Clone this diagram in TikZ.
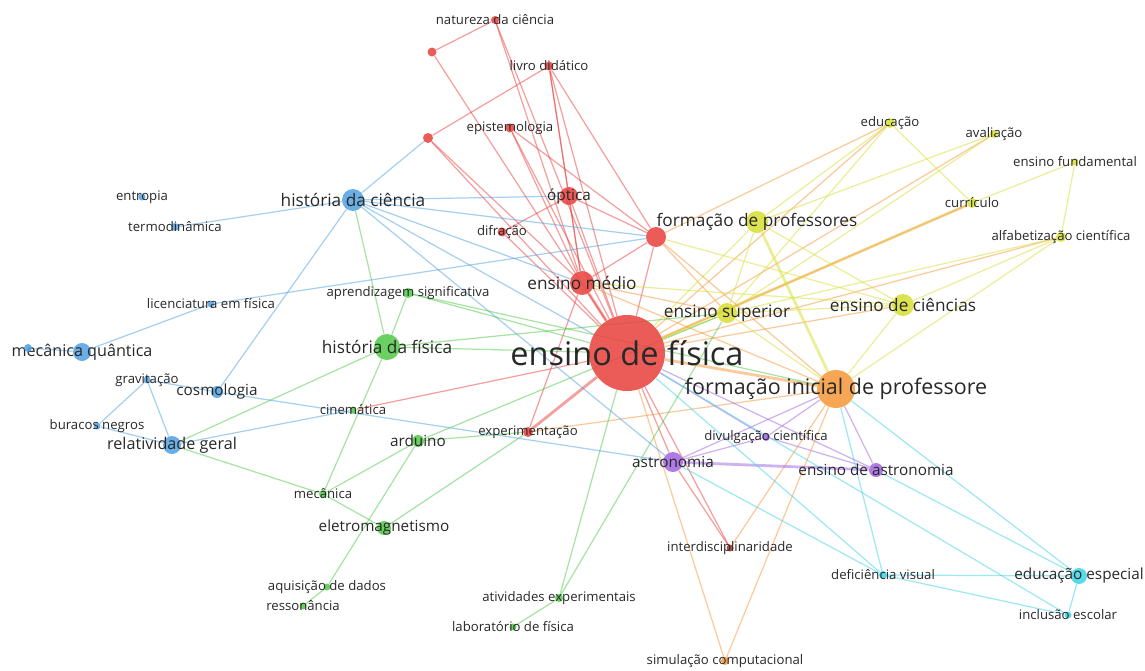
\documentclass[tikz,border=0pt]{standalone}
\usepackage{fontspec}
\setmainfont{Open Sans}
\usetikzlibrary{backgrounds}
\definecolor{cred}{RGB}{232,64,60}
\definecolor{cyel}{RGB}{214,222,50}
\definecolor{corg}{RGB}{245,150,55}
\definecolor{cgrn}{RGB}{80,200,70}
\definecolor{cblu}{RGB}{80,160,225}
\definecolor{cpur}{RGB}{160,100,225}
\definecolor{ccya}{RGB}{60,210,230}
\definecolor{ctxt}{RGB}{40,40,40}
\tikzset{
  kw/.style args={#1/#2}{circle, fill=#1, fill opacity=0.85, inner sep=0pt, minimum size=#2*0.02cm},
  ln/.style={draw=#1, line width=0.7pt, draw opacity=0.5},
  lnb/.style={draw=#1, line width=1.6pt, draw opacity=0.5},
  t1/.style={text=ctxt, font=\fontsize{18.5}{20}\selectfont},
  t2/.style={text=ctxt, font=\fontsize{12.2}{14}\selectfont},
  t3/.style={text=ctxt, font=\fontsize{9.8}{11}\selectfont},
  t3s/.style={text=ctxt, font=\fontsize{9.2}{11}\selectfont},
  t4/.style={text=ctxt, font=\fontsize{8.7}{10}\selectfont},
  t5/.style={text=ctxt, font=\fontsize{7.5}{9}\selectfont},
}
\begin{document}
\begin{tikzpicture}[x=0.02cm, y=-0.02cm]
\useasboundingbox (0,0) rectangle (1145,670);

\node[kw=cred/76, label={[t1]center:ensino de física}] (efis) at (627,353) {};
\node[kw=cred/24, label={[t3]center:ensino médio}] (emed) at (582,283) {};
\node[kw=cred/20] (fpr) at (656,237) {};
\node[kw=cred/18, label={[t4]center:óptica}] (opt) at (569,196) {};
\node[kw=cred/9, label={[t5]center:difração}] (difr) at (502,232) {};
\node[kw=cred/9, label={[t5]center:epistemologia}] (epis) at (510,128) {};
\node[kw=cred/9, label={[t5]center:livro didático}] (livro) at (549,66) {};
\node[kw=cred/8, label={[t5]center:natureza da ciência}] (natur) at (495,20) {};
\node[kw=cred/9] (u1) at (432,52) {};
\node[kw=cred/10] (u2) at (428,138) {};
\node[kw=cred/10, label={[t5]center:experimentação}] (expe) at (528,432) {};
\node[kw=cred!70!black/7, label={[t5]center:interdisciplinaridade}] (inter) at (730,548) {};

\node[kw=cyel/22, label={[t3]center:formação de professores}] (fprof) at (757,222) {};
\node[kw=cyel/20, label={[t3]center:ensino superior}] (esup) at (727,313) {};
\node[kw=cyel/22, label={[t3]center:ensino de ciências}] (eciu) at (903,305) {};
\node[kw=cyel/10, label={[t5]center:educação}] (educ) at (890,123) {};
\node[kw=cyel/8, label={[t5]center:avaliação}] (aval) at (994,134) {};
\node[kw=cyel/7, label={[t5]center:ensino fundamental}] (efund) at (1075,162) {};
\node[kw=cyel/10, label={[t5]center:currículo}] (curr) at (972,203) {};
\node[kw=cyel/10, label={[t5]center:alfabetização científica}] (alfa) at (1061,237) {};

\node[kw=corg/38, label={[t2]center:formação inicial de professore}] (finic) at (836,389) {};
\node[kw=corg/8, label={[t5]center:simulação computacional}] (simul) at (725,661) {};

\node[kw=cpur/20, label={[t4]center:astronomia}] (astro) at (673,462) {};
\node[kw=cpur/14, label={[t4]center:ensino de astronomia}] (enast) at (876,470) {};
\node[kw=cpur/8, label={[t5]center:divulgação científica}] (divul) at (766,437) {};

\node[kw=ccya/16, label={[t4]center:educação especial}] (eesp) at (1079,576) {};
\node[kw=ccya/7, label={[t5]center:inclusão escolar}] (incl) at (1068,615) {};
\node[kw=ccya/8, label={[t5]center:deficiência visual}] (defv) at (883,575) {};

\node[kw=cgrn/26, label={[t3]center:história da física}] (hfis) at (387,347) {};
\node[kw=cgrn/10, label={[t5]center:aprendizagem significativa}] (apsig) at (408,293) {};
\node[kw=cgrn/7, label={[t5]center:cinemática}] (cine) at (353,410) {};
\node[kw=cgrn/12, label={[t4]center:arduino}] (ardu) at (418,441) {};
\node[kw=cgrn/8, label={[t5]center:mecânica}] (mecan) at (323,494) {};
\node[kw=cgrn/14, label={[t4]center:eletromagnetismo}] (eletr) at (384,528) {};
\node[kw=cgrn/7, label={[t5]center:aquisição de dados}] (aquis) at (327,587) {};
\node[kw=cgrn/7, label={[t5]center:ressonância}] (resso) at (303,606) {};
\node[kw=cgrn/8, label={[t5]center:atividades experimentais}] (ativ) at (559,598) {};
\node[kw=cgrn/7, label={[t5]center:laboratório de física}] (labf) at (513,627) {};

\node[kw=cblu/22, label={[t3]center:história da ciência}] (hcien) at (353,200) {};
\node[kw=cblu/7, label={[t5]center:entropia}] (entro) at (142,197) {};
\node[kw=cblu/8, label={[t5]center:termodinâmica}] (termo) at (175,227) {};
\node[kw=cblu/7, label={[t5]center:licenciatura em física}] (licen) at (211,304) {};
\node[kw=cblu/18, label={[t3s]center:mecânica quântica}] (mquan) at (82,352) {};
\node[kw=cblu/8] (u3) at (28,348) {};
\node[kw=cblu/7, label={[t5]center:gravitação}] (gravi) at (147,380) {};
\node[kw=cblu/12, label={[t4]center:cosmologia}] (cosmo) at (217,392) {};
\node[kw=cblu/7, label={[t5]center:buracos negros}] (burac) at (97,426) {};
\node[kw=cblu/18, label={[t3s]center:relatividade geral}] (relat) at (172,445) {};

\begin{scope}[on background layer]
\foreach \a/\b in {efis/fpr, efis/opt, efis/livro, efis/epis, efis/natur, efis/u1,
  efis/u2, efis/difr, efis/inter, emed/opt, emed/livro, emed/natur, emed/u2, emed/fpr,
  emed/expe, opt/difr, opt/livro, opt/fpr, epis/fpr, epis/emed, livro/fpr, livro/u2,
  natur/u1, efis/cine, efis/astro, inter/astro}
  \draw[ln=cred] (\a) -- (\b);
\foreach \a/\b in {efis/emed, efis/expe}
  \draw[lnb=cred] (\a) -- (\b);
\foreach \a/\b in {efis/simul, efis/curr, efis/alfa, efis/educ, efis/aval, fpr/educ,
  fpr/finic, emed/finic, expe/finic, inter/finic, simul/finic, emed/esup, fpr/esup,
  efis/eciu}
  \draw[ln=corg] (\a) -- (\b);
\draw[lnb=corg] (efis) -- (finic);
\draw[lnb=corg!60!cyel] (efis) -- (curr);
\foreach \a/\b in {efis/fprof, efis/esup, fprof/esup, fprof/eciu, fprof/educ, fprof/aval,
  esup/eciu, esup/aval, esup/educ, esup/alfa, eciu/alfa, educ/curr, efund/curr,
  efund/alfa, finic/esup, finic/eciu, finic/alfa, fpr/eciu, emed/eciu}
  \draw[ln=cyel] (\a) -- (\b);
\draw[lnb=cyel] (fprof) -- (finic);
\foreach \a/\b in {efis/divul, efis/enast, astro/divul, divul/enast, divul/finic,
  enast/finic, astro/finic}
  \draw[ln=cpur] (\a) -- (\b);
\draw[lnb=cpur] (astro) -- (enast);
\foreach \a/\b in {efis/defv, efis/incl, defv/eesp, defv/incl, eesp/incl, enast/eesp,
  finic/eesp, finic/defv, astro/defv}
  \draw[ln=ccya] (\a) -- (\b);
\foreach \a/\b in {hfis/apsig, hfis/mecan, hfis/efis, hfis/esup, apsig/efis, apsig/finic,
  ardu/mecan, ardu/aquis, aquis/resso, ardu/esup, mecan/eletr, eletr/expe, ardu/expe,
  ativ/labf, ativ/efis, ativ/esup, hcien/hfis, relat/hfis, relat/mecan}
  \draw[ln=cgrn] (\a) -- (\b);
\foreach \a/\b in {hcien/termo, hcien/cosmo, hcien/opt, hcien/fpr, hcien/emed, hcien/u2,
  hcien/efis, hcien/astro, licen/mquan, licen/fpr, mquan/u3, gravi/cosmo, gravi/burac,
  gravi/relat, burac/relat, relat/cine, cosmo/astro}
  \draw[ln=cblu] (\a) -- (\b);
\end{scope}
\end{tikzpicture}
\end{document}
